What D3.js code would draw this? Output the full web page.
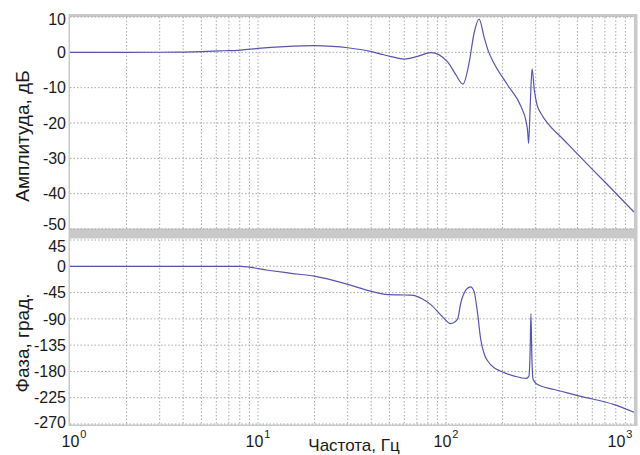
<!DOCTYPE html>
<html lang="ru">
<head>
<meta charset="UTF-8">
<title>ЛАФЧХ</title>
<script src="https://d3js.org/d3.v7.min.js"></script>
<style>
  body { margin: 0; background: #fff; }
  svg { display: block; }
  text { font-family: "Liberation Sans", Arial, sans-serif; fill: #1a1a1a; }
  .grid line { stroke: #a8a8a8; stroke-width: 1; stroke-dasharray: 1.5,2; }
  .curve { fill: none; stroke: #5555b0; stroke-width: 1.2; }
</style>
</head>
<body>
<svg width="640" height="455"></svg>
<script>
// amplitude response, dB
const ampFreq = [1, 2, 3.8, 5, 6.6, 8.1, 10, 13.8, 20, 25, 30, 40, 45, 51, 60, 70, 83, 102, 113, 123, 133, 141, 150, 160, 167, 180, 213, 251, 267, 272, 275, 281, 287, 295, 305, 320, 348, 420, 522, 700, 1000];
const ampDb   = [0, 0, 0.05, 0.2, 0.45, 0.65, 1.1, 1.6, 1.9, 1.7, 1.3, 0.2, -0.5, -1.2, -1.9, -1.2, -0.1, -2.7, -6.4, -9, -2.7, 5.4, 9.4, 4, 0.7, -3.1, -9.3, -15.4, -19.7, -22.5, -25.8, -14, -4.7, -10.7, -14.9, -17.3, -20.1, -24.6, -29.8, -36.7, -45.2];

// phase response, degrees
const phFreq = [1, 5, 8.1, 11.3, 15, 19.9, 30, 40, 49, 57, 65, 75, 83, 95, 106, 115, 120, 128, 135, 141, 147, 153, 160, 167, 181, 196, 231, 267, 276, 280, 283, 286, 290, 295, 307, 377, 522, 785, 1000];
const phDeg  = [0, 0, 0, -6.8, -12, -17, -31, -43, -48.5, -49, -49.5, -56, -65.6, -85, -98, -91, -62, -40, -35.3, -43, -79, -125, -151, -162.6, -174, -179.8, -188, -192, -188, -150, -81, -150, -192, -197, -202.5, -211, -222.6, -236.8, -250];

const ampTicks = [10, 0, -10, -20, -30, -40, -50];
const phTicks = [45, 0, -45, -90, -135, -180, -225, -270];
const decades = [1, 10, 100, 1000];

const svg = d3.select("svg");
const left = 70, right = 634;

const x = d3.scaleLog().domain([1, 1000]).range([left, right]);
const yAmp = d3.scaleLinear().domain([-50, 10]).range([229, 17]);
const yPh = d3.scaleLinear().domain([-270, 45]).range([424, 240]);

// gray frame + separator band
svg.append("rect").attr("x", 68.5).attr("y", 14).attr("width", 569).attr("height", 412).attr("fill", "#c9c9c9");
svg.append("rect").attr("x", left).attr("y", 17).attr("width", right - left).attr("height", 211.5).attr("fill", "#fff");
svg.append("rect").attr("x", left).attr("y", 238.5).attr("width", right - left).attr("height", 186).attr("fill", "#fff");

// minor + major log grid values
const gridF = [];
for (let d = 1; d < 1000; d *= 10) for (let k = 1; k < 10; k++) gridF.push(d * k);
gridF.push(1000);

function panel(y, ticks, fr, vals, lo, hi) {
  const g = svg.append("g").attr("class", "grid");
  g.selectAll(".v").data(gridF.filter(f => f > 1 && f < 1000)).join("line")
    .attr("x1", d => x(d)).attr("x2", d => x(d))
    .attr("y1", y.range()[1]).attr("y2", y.range()[0]);
  g.selectAll(".h").data(ticks).join("line")
    .attr("x1", left).attr("x2", right)
    .attr("y1", d => y(d)).attr("y2", d => y(d));

  svg.append("g").selectAll("text").data(ticks).join("text")
    .attr("x", 66).attr("text-anchor", "end")
    .attr("dy", "0.36em")
    .attr("y", d => Math.max(lo, Math.min(hi, y(d))))
    .style("font-size", "16px")
    .text(d => d);

  const line = d3.line().x(d => x(d[0])).y(d => y(d[1])).curve(d3.curveMonotoneX);
  svg.append("path").attr("class", "curve").attr("d", line(d3.zip(fr, vals)));
}

panel(yAmp, ampTicks, ampFreq, ampDb, 19.5, 224);
panel(yPh, phTicks, phFreq, phDeg, 246, 422);

// x tick labels 10^n
const xl = svg.append("g").selectAll("text").data(decades).join("text")
  .attr("x", d => Math.max(74, Math.min(620, x(d))))
  .attr("y", 447).attr("text-anchor", "middle")
  .style("font-size", "16px");
xl.append("tspan").text("10");
xl.append("tspan").attr("dy", -9).attr("dx", 1).style("font-size", "11px").text(d => Math.log10(d));

svg.append("text").attr("x", 354).attr("y", 451).attr("text-anchor", "middle")
  .style("font-size", "17px").text("Частота, Гц");

svg.append("text").attr("transform", "translate(29,136) rotate(-90)").attr("text-anchor", "middle")
  .style("font-size", "19px").text("Амплитуда, дБ");
svg.append("text").attr("transform", "translate(29,343) rotate(-90)").attr("text-anchor", "middle")
  .style("font-size", "19px").text("Фаза, град.");
</script>
</body>
</html>
